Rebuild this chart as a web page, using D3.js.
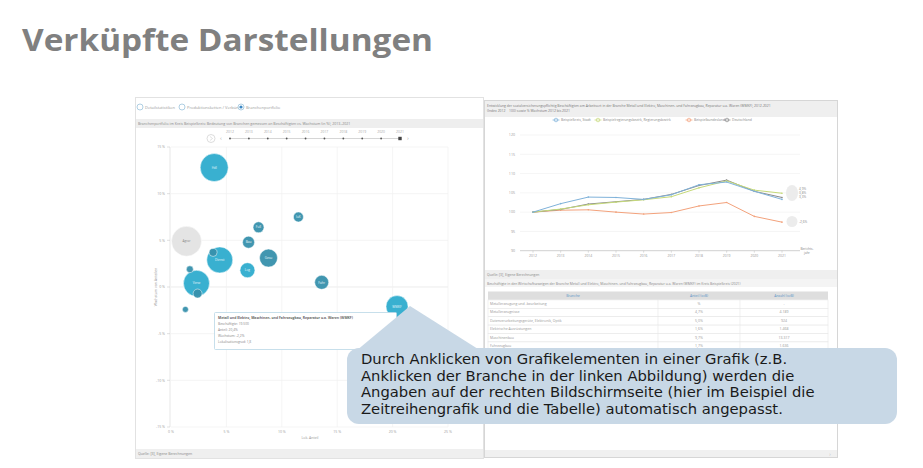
<!DOCTYPE html>
<html>
<head>
<meta charset="utf-8">
<script src="https://cdn.jsdelivr.net/npm/d3@7"></script>
<style>
  body { margin: 0; background: #fff; }
  svg { display: block; }
  text { font-family: "Open Sans", sans-serif; }
</style>
</head>
<body>
<div id="chart"></div>
<script>
// ---- data ----
const years = [2012, 2013, 2014, 2015, 2016, 2017, 2018, 2019, 2020, 2021];

// bubble chart (share in %, growth in %, size = employees in hundreds)
const bubbleLabels = ["Hdl", "Agrar", "IuK", "FuE", "Bau", "Gesu", "Dienst", "Chem", "Log", "Ener", "Verw", "Text", "Fahr", "WMKF", "Bergb"];
const bubbleShare  = [3.9, 1.4, 11.5, 7.9, 7.0, 8.8, 4.4, 3.8, 6.9, 1.7, 2.3, 2.4, 13.6, 20.4, 1.3];
const bubbleGrowth = [12.8, 4.9, 7.5, 6.4, 4.8, 3.1, 2.9, 3.7, 1.8, 1.9, 0.4, -0.7, 0.5, -2.1, -2.4];
const bubbleSize   = [196, 225, 25, 30, 36, 81, 169, 16, 56, 12, 169, 20, 49, 121, 9];
const bubbleGroup  = ["d", "a", "i", "i", "i", "i", "d", "i", "d", "i", "d", "i", "i", "d", "i"];
const xTicks = [0, 5, 10, 15, 20, 25];
const yTicks = [-15, -10, -5, 0, 5, 10, 15];

// line chart (index 2012 = 100)
const seriesNames = ["Beispielkreis, Stadt", "Beispielregierungsbezirk, Regierungsbezirk", "Beispielbundesland", "Deutschland"];
const stadt   = [100, 102.2, 103.9, 103.8, 103.3, 104.5, 107.1, 107.8, 105.4, 103.3];
const regbez  = [100, 100.8, 101.9, 102.6, 103.2, 104.0, 106.3, 108.1, 105.7, 104.9];
const bundesl = [100, 100.5, 100.6, 100.0, 99.5, 99.9, 101.6, 102.5, 98.9, 97.4];
const deutschl = [100, 100.7, 102.1, 102.7, 103.3, 104.6, 106.9, 108.3, 105.4, 103.8];
const endLabels = ["4,9%", "3,8%", "3,3%", "-2,6%"];
const lineTicks = [90, 95, 100, 105, 110, 115, 120];

// table (only the rows not hidden by the callout)
const tableHeader = ["Branche", "Anteil (svB)", "Anzahl (svB)"];
const tableBranche = ["Metallerzeugung und -bearbeitung", "Metallerzeugnisse", "Datenverarbeitungsgeräte, Elektronik, Optik",
  "Elektrische Ausrüstungen", "Maschinenbau", "Fahrzeugbau"];
const tableAnteil = ["%", "4,7%", "5,0%", "1,6%", "9,7%", "1,7%"];
const tableAnzahl = ["-", "4.189", "924", "1.468", "13.317", "1.636"];

const W = 923, H = 468;
const svg = d3.select("#chart").append("svg").attr("width", W).attr("height", H);
svg.append("rect").attr("width", W).attr("height", H).attr("fill", "#fff");

// slide title
svg.append("text")
    .attr("x", 22).attr("y", 51)
    .attr("font-size", 30).attr("font-weight", "bold")
    .attr("fill", "#808080")
    .attr("textLength", 411).attr("lengthAdjust", "spacingAndGlyphs")
    .text("Verküpfte Darstellungen");

const tiny = (g, x, y, t, size, fill, anchor) => g.append("text")
    .attr("x", x).attr("y", y)
    .attr("font-size", size || 4)
    .attr("fill", fill || "#888")
    .attr("text-anchor", anchor || "start")
    .text(t);

// ---- left panel ----
const left = svg.append("g");
left.append("rect").attr("x", 135.5).attr("y", 97.5).attr("width", 348).attr("height", 361)
    .attr("fill", "#fff").attr("stroke", "#e2e2e2");

// radio buttons
const radios = [["Detailstatistiken", 140], ["Produktionsketten / Verbünde", 182], ["Branchenportfolio", 241]];
radios.forEach((r, i) => {
  left.append("circle").attr("cx", r[1]).attr("cy", 107).attr("r", 3)
      .attr("fill", "#fff").attr("stroke", "#9cc3dc").attr("stroke-width", 0.8);
  if (i === 2) left.append("circle").attr("cx", r[1]).attr("cy", 107).attr("r", 1.6).attr("fill", "#3b87c4");
  tiny(left, r[1] + 5, 108.5, r[0], 4, "#999");
});

left.append("rect").attr("x", 136).attr("y", 119).attr("width", 347).attr("height", 9).attr("fill", "#eeeeee");
tiny(left, 138, 125, "Branchenportfolio im Kreis Beispielkreis: Bedeutung von Branchen gemessen an Beschäftigten vs. Wachstum (in %), 2013–2021", 3.6, "#888");

// year slider
const sx = d3.scalePoint().domain(years).range([230, 400]);
left.append("circle").attr("cx", 211).attr("cy", 138.5).attr("r", 4).attr("fill", "#fff").attr("stroke", "#ddd");
left.append("path").attr("d", "M210,136.5 L212.5,138.5 L210,140.5").attr("fill", "none").attr("stroke", "#ccc").attr("stroke-width", 0.6);
tiny(left, 221, 140, "‹", 6, "#aaa", "middle");
tiny(left, 408, 140, "›", 6, "#aaa", "middle");
left.append("line").attr("x1", sx(years[0])).attr("x2", sx(years[years.length - 1]))
    .attr("y1", 138.5).attr("y2", 138.5).attr("stroke", "#bbb").attr("stroke-width", 0.6);
years.forEach((yr, i) => {
  tiny(left, sx(yr), 133, yr, 3.4, "#aaa", "middle");
  if (i === years.length - 1) {
    left.append("rect").attr("x", sx(yr) - 1.7).attr("y", 136.8).attr("width", 3.4).attr("height", 3.4).attr("fill", "#444");
  } else {
    left.append("circle").attr("cx", sx(yr)).attr("cy", 138.5).attr("r", 0.9).attr("fill", "#555");
  }
});

// bubble chart
const x = d3.scaleLinear().domain([0, 25]).range([171, 448]);
const y = d3.scaleLinear().domain([-15, 15]).range([427, 147]);
const r = d3.scaleSqrt().domain([0, 225]).range([0, 15]);
const fmt = d => d + " %";

const grid = left.append("g");
grid.selectAll("line.h").data(yTicks).join("line")
    .attr("x1", x(0)).attr("x2", x(25)).attr("y1", d => y(d)).attr("y2", d => y(d))
    .attr("stroke", d => d === 0 ? "#e4e4e4" : "#f1f1f1").attr("stroke-width", 0.7);
grid.selectAll("line.v").data(xTicks.slice(1)).join("line")
    .attr("x1", d => x(d)).attr("x2", d => x(d)).attr("y1", y(15)).attr("y2", y(-15))
    .attr("stroke", "#f1f1f1").attr("stroke-width", 0.7);
grid.append("line").attr("x1", x(0) - 1).attr("x2", x(0) - 1).attr("y1", y(15)).attr("y2", y(-15))
    .attr("stroke", "#dcdcdc").attr("stroke-width", 0.7);

yTicks.forEach(t => {
  tiny(left, x(0) - 6, y(t) + 1.3, fmt(t), 3.5, "#999", "end");
  left.append("line").attr("x1", x(0) - 4).attr("x2", x(0) - 1).attr("y1", y(t)).attr("y2", y(t)).attr("stroke", "#ccc").attr("stroke-width", 0.6);
});
xTicks.forEach(t => tiny(left, x(t), 433, fmt(t), 3.5, "#999", "middle"));
tiny(left, 310, 439, "Lok. Anteil", 3.5, "#999", "middle");
left.append("text").attr("transform", "translate(157,287) rotate(-90)")
    .attr("font-size", 3.5).attr("fill", "#999").attr("text-anchor", "middle")
    .text("Wachstum von Anteilen");

const fillFor = g => g === "a" ? "#e3e3e3" : g === "d" ? "#2eaccd" : "#3790ac";
const bubbles = bubbleLabels.map((l, i) => ({l, sx: bubbleShare[i], gy: bubbleGrowth[i], s: bubbleSize[i], g: bubbleGroup[i]}))
    .sort((a, b) => b.s - a.s);
const bg = left.append("g");
bg.selectAll("circle").data(bubbles).join("circle")
    .attr("cx", d => x(d.sx)).attr("cy", d => y(d.gy)).attr("r", d => r(d.s))
    .attr("fill", d => fillFor(d.g)).attr("fill-opacity", 0.95)
    .attr("stroke", "#fff").attr("stroke-width", 0.5);
bg.selectAll("text").data(bubbles.filter(d => r(d.s) > 4.5)).join("text")
    .attr("x", d => x(d.sx)).attr("y", d => y(d.gy) + 1.2)
    .attr("text-anchor", "middle").attr("font-size", 3.2)
    .attr("fill", d => d.g === "a" ? "#888" : "#e8f6fb")
    .text(d => d.l);

// tooltip
const tt = left.append("g");
tt.append("rect").attr("x", 214.5).attr("y", 312.5).attr("width", 182).attr("height", 37).attr("rx", 1)
    .attr("fill", "#fff").attr("stroke", "#b9d7e6").attr("stroke-width", 0.8);
tiny(tt, 218, 318.5, "Metall und Elektro, Maschinen- und Fahrzeugbau, Reparatur u.a. Waren (WMKF)", 3.4, "#666").attr("font-weight", "bold");
["Beschäftigte: 19.500", "Anteil: 20,4%", "Wachstum: -2,2%", "Lokalisationsgrad: 1,8"].forEach((t, i) =>
  tiny(tt, 218, 325 + i * 6, t, 3.3, "#888"));

left.append("rect").attr("x", 136).attr("y", 449).attr("width", 347).attr("height", 9).attr("fill", "#efefef");
tiny(left, 138, 455, "Quelle: [3], Eigene Berechnungen", 3.5, "#888");

// ---- right panel ----
const right = svg.append("g");
right.append("rect").attr("x", 484.5).attr("y", 100.5).attr("width", 353).attr("height", 357)
    .attr("fill", "#fff").attr("stroke", "#d6d6d6");
right.append("rect").attr("x", 485).attr("y", 101).attr("width", 352).attr("height", 16).attr("fill", "#efefef");
tiny(right, 487, 106.5, "Entwicklung der sozialversicherungspflichtig Beschäftigten am Arbeitsort in der Branche Metall und Elektro, Maschinen- und Fahrzeugbau, Reparatur u.a. Waren (WMKF), 2012-2021", 3.4, "#777");
tiny(right, 487, 111.5, "(Index 2012 = 100) sowie % Wachstum 2012 bis 2021", 3.4, "#777");

const lineData = [stadt, regbez, bundesl, deutschl];
const lineColors = ["#7fb2da", "#c5d978", "#f3a27c", "#8a8a8a"];
const legendX = [556, 598, 689, 727];
seriesNames.forEach((n, i) => {
  right.append("circle").attr("cx", legendX[i]).attr("cy", 120).attr("r", 1.8)
      .attr("fill", "#fff").attr("stroke", lineColors[i]).attr("stroke-width", 0.7);
  right.append("line").attr("x1", legendX[i] - 3.5).attr("x2", legendX[i] + 3.5).attr("y1", 120).attr("y2", 120)
      .attr("stroke", lineColors[i]).attr("stroke-width", 0.7);
  tiny(right, legendX[i] + 5, 121.2, n, 3.4, "#888");
});

const xl = d3.scalePoint().domain(years).range([533, 782]);
const yl = d3.scaleLinear().domain([90, 120]).range([250.7, 135]);
lineTicks.forEach(t => {
  right.append("line").attr("x1", 520).attr("x2", 800).attr("y1", yl(t)).attr("y2", yl(t))
      .attr("stroke", t === 90 ? "#bbb" : "#f0f0f0").attr("stroke-width", 0.7);
  tiny(right, 515, yl(t) + 1.3, t, 3.6, "#999", "end");
});
years.forEach(yr => {
  right.append("line").attr("x1", xl(yr)).attr("x2", xl(yr)).attr("y1", yl(90)).attr("y2", yl(90) + 2)
      .attr("stroke", "#bbb").attr("stroke-width", 0.5);
  tiny(right, xl(yr), 257, yr, 3.4, "#999", "middle");
});
tiny(right, 807, 250, "Berichts-", 3.2, "#888", "middle");
tiny(right, 807, 254, "jahr", 3.2, "#888", "middle");

const line = d3.line().x((d, i) => xl(years[i])).y(d => yl(d));
[2, 3, 1, 0].forEach(i => {
  right.append("path").datum(lineData[i]).attr("fill", "none")
      .attr("stroke", lineColors[i]).attr("stroke-width", 1).attr("d", line);
  right.selectAll(null).data(lineData[i]).join("circle")
      .attr("cx", (d, j) => xl(years[j])).attr("cy", d => yl(d)).attr("r", 0.8)
      .attr("fill", lineColors[i]);
});
// end-value markers
right.append("ellipse").attr("cx", 792).attr("cy", 193).attr("rx", 6).attr("ry", 8).attr("fill", "#ececec");
right.append("circle").attr("cx", 792).attr("cy", 221.5).attr("r", 5.5).attr("fill", "#ececec");
[[0, 188.5], [1, 193], [2, 197]].forEach(e =>
  tiny(right, 799, e[1] + 1.2, endLabels[e[0]], 3.2, "#888"));
tiny(right, 799, 222.7, endLabels[3], 3.2, "#888");

right.append("rect").attr("x", 485).attr("y", 270).attr("width", 352).attr("height", 9).attr("fill", "#efefef");
tiny(right, 487, 276, "Quelle: [3], Eigene Berechnungen", 3.4, "#888");
right.append("rect").attr("x", 485).attr("y", 279).attr("width", 352).attr("height", 8).attr("fill", "#f4f4f4");
tiny(right, 487, 284.5, "Beschäftigte in den Wirtschaftszweigen der Branche Metall und Elektro, Maschinen- und Fahrzeugbau, Reparatur u.a. Waren (WMKF) im Kreis Beispielkreis (2021)", 3.4, "#888");

// table
const colX = [488, 658, 740, 828];
const rowH = 8.4, headY = 291.5;
right.append("rect").attr("x", colX[0]).attr("y", headY).attr("width", colX[3] - colX[0]).attr("height", rowH)
    .attr("fill", "#dedede");
tableHeader.forEach((h, c) => tiny(right, (colX[c] + colX[c + 1]) / 2, headY + 5.6, h, 3.5, "#5d96c8", "middle"));
tableBranche.forEach((b, i) => {
  const ry = headY + rowH * (i + 1);
  right.append("rect").attr("x", colX[0]).attr("y", ry).attr("width", colX[3] - colX[0]).attr("height", rowH)
      .attr("fill", "#fff").attr("stroke", "#e6e6e6").attr("stroke-width", 0.6);
  [1, 2].forEach(c => right.append("line").attr("x1", colX[c]).attr("x2", colX[c]).attr("y1", ry).attr("y2", ry + rowH)
      .attr("stroke", "#e6e6e6").attr("stroke-width", 0.6));
  tiny(right, colX[0] + 2, ry + 5.1, b, 3.5, "#999");
  tiny(right, (colX[1] + colX[2]) / 2, ry + 5.1, tableAnteil[i], 3.5, "#999", "middle");
  tiny(right, (colX[2] + colX[3]) / 2, ry + 5.1, tableAnzahl[i], 3.5, "#999", "middle");
});
right.append("rect").attr("x", 485).attr("y", 450).attr("width", 352).attr("height", 7).attr("fill", "#f0f0f0");
tiny(right, 830, 455.5, "›", 5, "#bbb", "middle");

// ---- callout ----
const callout = svg.append("g");
callout.append("path").attr("d", "M410,306 L356,351 L478,349 Z").attr("fill", "#c8d8e6");
callout.append("rect").attr("x", 347).attr("y", 348).attr("width", 550).attr("height", 76).attr("rx", 12)
    .attr("fill", "#c8d8e6");
const calloutLines = [
  "Durch Anklicken von Grafikelementen in einer Grafik (z.B.",
  "Anklicken der Branche in der linken Abbildung) werden die",
  "Angaben auf der rechten Bildschirmseite (hier im Beispiel die",
  "Zeitreihengrafik und die Tabelle) automatisch angepasst."
];
const ct = callout.selectAll("text.c").data(calloutLines).join("text")
    .attr("class", "c")
    .attr("x", 361).attr("y", (d, i) => 364 + i * 16.5)
    .style("font-family", "'DejaVu Sans', sans-serif")
    .style("font-size", "13px")
    .attr("fill", "#1a1a1a")
    .text(d => d);
// fit the font so the first line spans the same width as in the slide (~426px)
const w0 = ct.node().getComputedTextLength();
ct.style("font-size", (13 * 426 / w0).toFixed(2) + "px");
</script>
</body>
</html>
